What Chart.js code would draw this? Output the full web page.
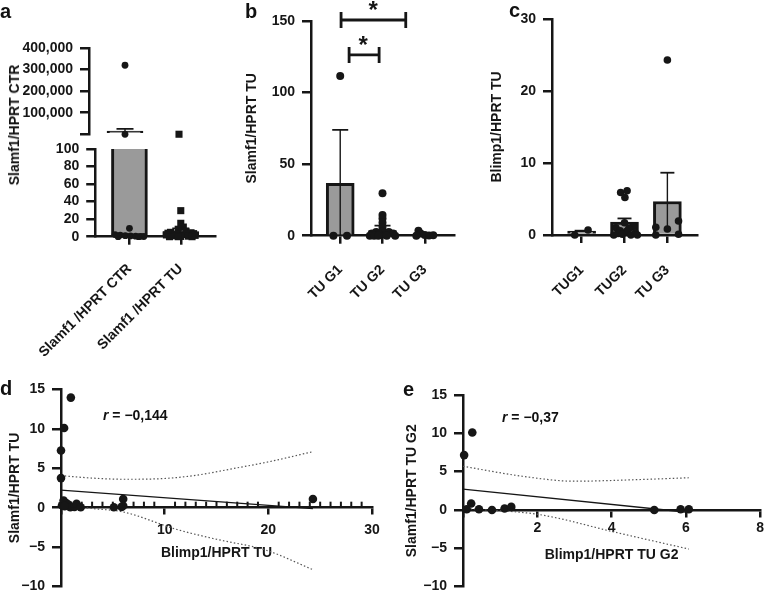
<!DOCTYPE html>
<html><head><meta charset="utf-8">
<script src="https://cdn.jsdelivr.net/npm/chart.js@4.4.1/dist/chart.umd.min.js"></script>
<style>
html,body{margin:0;padding:0;background:#fff;}
#wrap{position:relative;width:768px;height:602px;overflow:hidden;font-family:"Liberation Sans",Arial,sans-serif;color:#111;background:#fff;}
canvas{position:absolute;left:0;top:0;}
.t{position:absolute;white-space:nowrap;font-weight:bold;line-height:1;}
.rot{transform:translate(-50%,-50%) rotate(-90deg);font-size:14px;}
</style></head><body><div id="wrap">
<canvas id="aTop" width="768" height="602"></canvas>
<canvas id="aBot" width="768" height="602"></canvas>
<canvas id="cb" width="768" height="602"></canvas>
<canvas id="cc" width="768" height="602"></canvas>
<canvas id="cd" width="768" height="602"></canvas>
<canvas id="ce" width="768" height="602"></canvas>
<div class="t" style="left:0px;top:1px;font-size:20px">a</div>
<div class="t" style="left:245px;top:1px;font-size:20px">b</div>
<div class="t" style="left:509px;top:0px;font-size:20px">c</div>
<div class="t" style="left:0px;top:378px;font-size:20px">d</div>
<div class="t" style="left:403px;top:379px;font-size:20px">e</div>
<div class="t rot" style="left:14px;top:125px">Slamf1/HPRT CTR</div>
<div class="t" style="left:103px;top:408px;font-size:14px"><i>r</i> = −0,144</div>
<div class="t" style="left:502px;top:410px;font-size:14px"><i>r</i> = −0,37</div>
</div>
<script>
// ---------------- data ----------------
// Panel a (broken y axis)
const aCategories = ['Slamf1 /HPRT CTR', 'Slamf1 /HPRT TU'];
const aMeans = [15000, 5.7];
const aErrors = [10000, 3.9];
const aCtrValues = [320000, 300, 9.6, 2.4, 1.8, 1.2, 0.9, 0.6, 0.4, 0.2, 0, 0];
const aCtrSlots  = [1.00, 1.00, 1.00, 0.72, 0.82, 0.92, 1.02, 1.12, 1.22, 1.28, 0.78, 1.18];
const aTuValues  = [300, 29.7, 15.3, 11, 8.5, 6, 5, 4.5, 4, 3.5, 3, 2.5, 2, 1.5, 1, 0.6, 0.3, 0, 0, 0];
const aTuSlots   = [2.00, 2.00, 2.00, 2.05, 1.95, 2.10, 1.80, 2.20, 1.75, 2.25, 1.90, 2.10, 1.72, 2.28, 1.85, 2.15, 2.00, 1.78, 2.22, 1.95];
const aUpperTicks = [0, 100000, 200000, 300000, 400000];
const aLowerTicks = [0, 20, 40, 60, 80, 100];

// Panel b
const bCategories = ['TU G1', 'TU G2', 'TU G3'];
const bMeans = [36.6, 3.5, 1.0];
const bErrors = [37.4, 3.5, 1.0];
const bValues = [111.6, 0, 0,
  29.6, 14.5, 12.1, 9.1, 6, 3, 2.5, 2.5, 1.5, 1.5, 1, 0.5, 0, 0, 0, 0, 0,
  3.5, 1.5, 0.5, 0.2, 0.3, 0];
const bSlots = [1.00, 0.84, 1.16,
  2.00, 2.00, 2.00, 2.00, 2.00, 2.00, 1.85, 2.15, 1.75, 2.25, 1.92, 2.08, 1.70, 1.80, 1.90, 2.10, 2.30,
  2.85, 2.90, 3.00, 3.10, 3.20, 2.80];
const bBrackets = [
  {from: 1.02, to: 2.55, level: 150.7, star: 1.78, starY: 152.3},
  {from: 1.21, to: 1.92, level: 126.3, star: 1.54, starY: 127.4}
];

// Panel c
const cCategories = ['TUG1', 'TUG2', 'TU G3'];
const cMeans = [0.55, 1.8, 4.65];
const cErrors = [0.05, 0.5, 4.0];
const cValues = [0, 0.7,
  5.9, 6.15, 5.2, 1.7, 1.0, 1.2, 0.6, 0.9, 0.5, 0.2, 0.1, 0, 0, 0.3, 0,
  24.3, 1.07, 0.83, 1.94, 0, 0.1];
const cSlots = [0.84, 1.15,
  1.91, 2.06, 2.01, 2.00, 1.80, 2.20, 1.90, 2.10, 2.05, 1.85, 1.95, 1.75, 2.15, 2.25, 2.30,
  3.00, 2.73, 3.00, 3.26, 2.73, 3.26];

// Panel d
const dX = [0, 0, 0.3, 0.95, 0.1, 0.25, 0.5, 0.7, 0.9, 1.3, 1.5, 1.9, 0.35, 5.1, 5.85, 6.0, 6.0, 24.3];
const dY = [3.75, 7.25, 10.1, 13.95, 0.3, 0.9, 0.6, 0.4, 0.05, 0.1, 0.5, 0.05, 0.2, 0.05, 0.1, 1.1, 0.25, 1.1];
const dFitX = [0, 24.3];
const dFitY = [2.23, -0.12];
const dUpperX = [0, 3, 6, 10, 13, 16.6, 20, 24.3];
const dUpperY = [4.06, 3.75, 3.6, 3.7, 4.1, 4.95, 5.8, 7.1];
const dLowerX = [0, 3, 6, 11.2, 15, 19.8, 24.3];
const dLowerY = [0.4, -0.1, -0.54, -2.77, -4.0, -5.4, -7.85];

// Panel e
const eX = [0.03, 0.25, 0.22, 0.1, 0.43, 0.78, 1.12, 1.3, 5.15, 5.86, 6.08];
const eY = [7.16, 10.1, 0.84, 0.1, 0.1, 0, 0.2, 0.4, 0, 0.1, 0.1];
const eFitX = [0, 6.05];
const eFitY = [2.72, -0.3];
const eUpperX = [0, 1.6, 3.0, 4.7, 6.08];
const eUpperY = [5.7, 4.4, 3.75, 3.96, 4.2];
const eLowerX = [0, 2.05, 4.09, 6.08];
const eLowerY = [0.2, -0.6, -2.9, -5.1];

// ---------------- helpers ----------------
const INK = '#161616';
const FONT = '"Liberation Sans", Arial, sans-serif';
Chart.defaults.font.family = FONT;
Chart.defaults.font.size = 14;
Chart.defaults.font.weight = 'bold';
Chart.defaults.color = INK;
const BREAK = 100;
const fmt = v => (v < 0 ? '\u2212' : '') + Math.abs(v).toLocaleString('en-US');
const pts = (xs, ys) => xs.map((x, i) => ({x, y: ys[i]}));

function pad(area, W, H) {
  return {left: area.left - W, top: area.top, right: 768 - area.right, bottom: 602 - area.bottom - H};
}
const gridOpts = (tl) => ({drawOnChartArea: false, drawTicks: true, tickLength: tl, tickWidth: 2.5, lineWidth: 2.5, color: INK, tickColor: INK, offset: false});
const borderOpts = {display: true, width: 2.5, color: INK};

function yAxis(o) {
  const ax = {
    type: 'linear', position: 'left', min: o.min, max: o.max, beginAtZero: false,
    afterFit: s => { s.width = o.W; },
    ticks: {stepSize: o.step, padding: 7, autoSkip: false, font: {size: 14, weight: 'bold'}, color: INK,
      callback: o.cb || (v => fmt(v))},
    grid: gridOpts(9), border: borderOpts,
    title: o.title ? {display: true, text: o.title, padding: 0, color: INK, font: {size: 14, weight: 'bold'}} : {display: false}
  };
  if (o.ticks) ax.afterBuildTicks = s => { s.ticks = o.ticks.map(v => ({value: v})); };
  return ax;
}
function catAxis(o) {
  return {
    type: 'linear', position: 'bottom', min: o.min, max: o.max, offset: false, display: o.display !== false,
    afterFit: s => { s.height = o.H; },
    afterBuildTicks: s => { s.ticks = o.cats.map((c, i) => ({value: i + 1})); },
    ticks: {autoSkip: false, maxRotation: 45, minRotation: 45, padding: o.pad || 6, color: INK,
      font: {size: 14, weight: 'bold'}, callback: v => o.cats[Math.round(v) - 1]},
    grid: gridOpts(8), border: borderOpts
  };
}

const errorBars = {
  id: 'errorBars',
  afterDatasetDraw(chart, args, opts) {
    if (!opts.items || args.meta.type !== 'bar') return;
    const {ctx, chartArea: ca, scales: {x, y}} = chart;
    ctx.save();
    ctx.beginPath();
    ctx.rect(ca.left - 30, ca.top - 30, ca.right - ca.left + 60, ca.bottom - ca.top + 30);
    ctx.clip();
    ctx.strokeStyle = INK;
    opts.items.forEach(it => {
      const px = x.getPixelForValue(it.x);
      const lo = Math.max(it.mean - it.err, y.min), hi = Math.min(it.mean + it.err, y.max);
      if (hi <= lo) return;
      ctx.lineWidth = 1.4;
      ctx.beginPath();
      ctx.moveTo(px, y.getPixelForValue(lo));
      ctx.lineTo(px, y.getPixelForValue(hi));
      ctx.stroke();
      if (it.mean + it.err <= y.max) {
        const py = y.getPixelForValue(it.mean + it.err);
        ctx.lineWidth = 1.8;
        ctx.beginPath();
        ctx.moveTo(px - opts.cap / 2, py);
        ctx.lineTo(px + opts.cap / 2, py);
        ctx.stroke();
      }
    });
    ctx.restore();
  }
};
const brackets = {
  id: 'brackets',
  afterDraw(chart, args, opts) {
    if (!opts.items) return;
    const {ctx, scales: {x, y}} = chart;
    ctx.save();
    ctx.strokeStyle = INK; ctx.fillStyle = INK; ctx.lineWidth = 2.8;
    opts.items.forEach(b => {
      const x1 = x.getPixelForValue(b.from), x2 = x.getPixelForValue(b.to), py = y.getPixelForValue(b.level);
      ctx.beginPath();
      ctx.moveTo(x1, py); ctx.lineTo(x2, py);
      ctx.moveTo(x1, py - 8); ctx.lineTo(x1, py + 8);
      ctx.moveTo(x2, py - 8); ctx.lineTo(x2, py + 8);
      ctx.stroke();
      ctx.font = 'bold 24px ' + FONT;
      ctx.textAlign = 'center'; ctx.textBaseline = 'alphabetic';
      ctx.fillText('*', x.getPixelForValue(b.star), y.getPixelForValue(b.starY));
    });
    ctx.restore();
  }
};
const minorTicks = {
  id: 'minorTicks',
  afterDraw(chart, args, opts) {
    if (!opts.step) return;
    const {ctx, scales: {x, y}} = chart;
    const y0 = y.getPixelForValue(0);
    ctx.save();
    ctx.strokeStyle = INK; ctx.lineWidth = 2;
    for (let v = x.min + opts.step; v < x.max; v += opts.step) {
      if (Math.abs(v % opts.major) < 1e-6) continue;
      const px = x.getPixelForValue(v);
      ctx.beginPath(); ctx.moveTo(px, y0); ctx.lineTo(px, y0 - opts.len); ctx.stroke();
    }
    ctx.restore();
  }
};
Chart.register(errorBars, brackets, minorTicks);

const base = (padding, extra) => Object.assign({
  responsive: false, animation: false, events: [],
  layout: {padding},
  plugins: Object.assign({legend: {display: false}, tooltip: {enabled: false}}, extra || {})
});

const barDs = (data, thick) => ({type: 'bar', data, backgroundColor: '#9a9a9a', borderColor: INK, borderWidth: 3,
  borderSkipped: 'start', barThickness: thick, order: 2});
const dotDs = (data, r, style) => ({type: 'scatter', data, pointRadius: r, pointHoverRadius: r, pointStyle: style || 'circle',
  backgroundColor: INK, borderColor: INK, borderWidth: 0, clip: false, order: 1});

// ---------------- panel a (upper segment) ----------------
{
  const area = {left: 89, top: 48, right: 215, bottom: 134.3};
  const W = 80;
  const items = aMeans.map((m, i) => ({x: i + 1, mean: m, err: aErrors[i]})).filter(it => it.mean > BREAK);
  new Chart(document.getElementById('aTop'), {
    type: 'bar',
    data: {datasets: [
      dotDs(pts(aCtrSlots, aCtrValues).filter(p => p.y > BREAK), 3.4),
      dotDs(pts(aTuSlots, aTuValues).filter(p => p.y > BREAK), 5, 'rect'),
      barDs(aMeans.map((m, i) => ({x: i + 1, y: m > BREAK ? m : null})), 36)
    ]},
    options: Object.assign(base(pad(area, W, 0), {errorBars: {items, cap: 17}}), {
      scales: {
        x: catAxis({min: 1 - 36 / 54, max: 2 + 36 / 54, cats: aCategories, H: 0, display: false}),
        y: yAxis({min: 0, max: 400000, step: 100000, W, ticks: aUpperTicks, cb: v => v === 0 ? '' : fmt(v)})
      }
    })
  });
}
// ---------------- panel a (lower segment) ----------------
{
  const area = {left: 89, top: 149, right: 215, bottom: 236.7};
  const W = 80, H = 140;
  const items = aMeans.map((m, i) => ({x: i + 1, mean: m, err: aErrors[i]}));
  const bars = barDs(aMeans.map((m, i) => ({x: i + 1, y: m})), 36);
  bars.clip = {top: 0, left: false, right: false, bottom: false};
  new Chart(document.getElementById('aBot'), {
    type: 'bar',
    data: {datasets: [
      dotDs(pts(aCtrSlots, aCtrValues).filter(p => p.y <= BREAK), 3.4),
      dotDs(pts(aTuSlots, aTuValues).filter(p => p.y <= BREAK), 5, 'rect'),
      bars
    ]},
    options: Object.assign(base(pad(area, W, H), {errorBars: {items, cap: 17}}), {
      scales: {
        x: catAxis({min: 1 - 36 / 54, max: 2 + 36 / 54, cats: aCategories, H, pad: 16}),
        y: yAxis({min: 0, max: 100, step: 20, W, ticks: aLowerTicks})
      }
    })
  });
}
// ---------------- panel b ----------------
{
  const area = {left: 311, top: 21, right: 454, bottom: 235.7};
  const W = 311 - (252 - 8.4), H = 80;
  const items = bMeans.map((m, i) => ({x: i + 1, mean: m, err: bErrors[i]}));
  new Chart(document.getElementById('cb'), {
    type: 'bar',
    data: {datasets: [dotDs(pts(bSlots, bValues), 4), barDs(bMeans.map((m, i) => ({x: i + 1, y: m})), 28)]},
    options: Object.assign(base(pad(area, W, H), {errorBars: {items, cap: 16}, brackets: {items: bBrackets}}), {
      scales: {
        x: catAxis({min: 1 - 29.3 / 42.4, max: 3 + 29.3 / 42.4, cats: bCategories, H, pad: 18}),
        y: yAxis({min: 0, max: 150, step: 50, W, title: 'Slamf1/HPRT TU'})
      }
    })
  });
}
// ---------------- panel c ----------------
{
  const area = {left: 552, top: 19, right: 697, bottom: 235};
  const W = 552 - (497 - 8.4), H = 80;
  const items = cMeans.map((m, i) => ({x: i + 1, mean: m, err: cErrors[i]}));
  new Chart(document.getElementById('cc'), {
    type: 'bar',
    data: {datasets: [dotDs(pts(cSlots, cValues), 3.8), barDs(cMeans.map((m, i) => ({x: i + 1, y: m})), 28)]},
    options: Object.assign(base(pad(area, W, H), {errorBars: {items, cap: 14}}), {
      scales: {
        x: catAxis({min: 1 - 29.7 / 43, max: 3 + 29.7 / 43, cats: cCategories, H, pad: 19}),
        y: yAxis({min: 0, max: 30, step: 10, W, title: 'Blimp1/HPRT TU'})
      }
    })
  });
}
// ---------------- scatter panels ----------------
function scatterChart(id, o) {
  const W = o.area.left - (o.titleX - 8.4);
  const lineDs = (data, dashed) => ({type: 'scatter', data, showLine: true, pointRadius: 0, borderColor: dashed ? '#555' : INK,
    borderWidth: dashed ? 1.2 : 1.3, borderDash: dashed ? [1.5, 2.2] : [], cubicInterpolationMode: dashed ? 'monotone' : 'default',
    clip: false, order: 2});
  new Chart(document.getElementById(id), {
    type: 'scatter',
    data: {datasets: [
      dotDs(pts(o.xs, o.ys), 4.3),
      lineDs(pts(o.fitX, o.fitY), false),
      lineDs(pts(o.upX, o.upY), true),
      lineDs(pts(o.loX, o.loY), true)
    ]},
    options: Object.assign(base(pad(o.area, W, 0), {minorTicks: o.minor || {}}), {
      scales: {
        x: {type: 'linear', position: {y: 0}, min: 0, max: o.xMax,
          afterFit: s => { s.height = o.xH; },
          ticks: {stepSize: o.xStep, autoSkip: false, maxRotation: 0, minRotation: 0, padding: o.xPad, color: INK,
            font: {size: 14, weight: 'bold'}, callback: v => v === 0 ? '' : fmt(v)},
          grid: gridOpts(6), border: borderOpts,
          title: {display: true, text: o.xTitle, padding: 0, color: INK, font: {size: 14, weight: 'bold'}}},
        y: yAxis({min: -10, max: 15, step: 5, W, title: o.yTitle})
      }
    })
  });
}
scatterChart('cd', {
  area: {left: 61, top: 389.3, right: 372, bottom: 596}, titleX: 15,
  xs: dX, ys: dY, fitX: dFitX, fitY: dFitY, upX: dUpperX, upY: dUpperY, loX: dLowerX, loY: dLowerY,
  xMax: 30, xStep: 10, xH: 54, xPad: 8, xTitle: 'Blimp1/HPRT TU', yTitle: 'Slamf1/HPRT TU',
  minor: {step: 1, major: 10, len: 6}
});
scatterChart('ce', {
  area: {left: 463, top: 395, right: 763, bottom: 596}, titleX: 411.7,
  xs: eX, ys: eY, fitX: eFitX, fitY: eFitY, upX: eUpperX, upY: eUpperY, loX: eLowerX, loY: eLowerY,
  xMax: 8, xStep: 2, xH: 53.4, xPad: 4, xTitle: 'Blimp1/HPRT TU G2', yTitle: 'Slamf1/HPRT TU G2'
});
</script>
</body></html>
